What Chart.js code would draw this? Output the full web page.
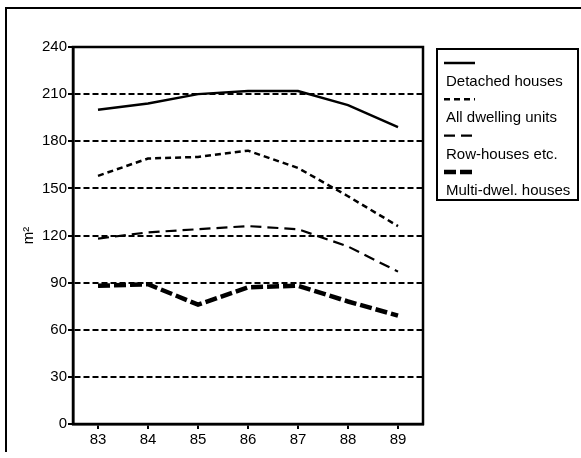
<!DOCTYPE html>
<html>
<head>
<meta charset="utf-8">
<script src="https://cdn.jsdelivr.net/npm/chart.js@4.4.0/dist/chart.umd.min.js"></script>
<style>
  html, body { margin: 0; padding: 0; background: #fff; }
  #wrap { width: 581px; height: 458px; position: relative; }
</style>
</head>
<body>
<div id="wrap"><canvas id="chart"></canvas></div>
<script>
  var years = ["83", "84", "85", "86", "87", "88", "89"];
  var detached = [200, 204, 210, 212, 212, 203, 189];
  var allUnits = [158, 169, 170, 174, 163, 145, 126];
  var rowHouses = [118, 122, 124, 126, 124, 113, 97];
  var multiDwel = [88, 89, 76, 87, 88, 78, 69];
  var seriesNames = ["Detached houses", "All dwelling units", "Row-houses etc.", "Multi-dwel. houses"];
  var yTitle = "m\u00b2";

  var FONT = "'Liberation Sans', Arial, sans-serif";
  Chart.defaults.font.family = FONT;
  Chart.defaults.font.size = 15;
  Chart.defaults.color = "#000";

  function line(label, data, width, dash) {
    return {
      label: label,
      data: data,
      borderColor: "#000",
      borderWidth: width,
      borderDash: dash,
      pointRadius: 0,
      fill: false,
      tension: 0,
    };
  }

  // outer frame + box round the plot area
  var framePlugin = {
    id: "frame",
    beforeDraw: function (chart) {
      var ctx = chart.ctx;
      ctx.save();
      ctx.strokeStyle = "#000";
      ctx.lineWidth = 2;
      ctx.beginPath();
      ctx.moveTo(6, 452);
      ctx.lineTo(6, 8);
      ctx.lineTo(581, 8);
      ctx.stroke();
      ctx.restore();
    },
    afterDraw: function (chart) {
      var a = chart.chartArea;
      var ctx = chart.ctx;
      ctx.save();
      ctx.strokeStyle = "#000";
      ctx.lineWidth = 2.5;
      ctx.strokeRect(a.left, a.top, a.right - a.left, a.bottom - a.top);
      ctx.restore();
    },
  };

  // legend: sample line above each label, inside a box
  var legendPlugin = {
    id: "boxLegend",
    afterDraw: function (chart) {
      var ctx = chart.ctx;
      var x = 437, y = 49, w = 141, h = 151;
      ctx.save();
      ctx.fillStyle = "#fff";
      ctx.fillRect(x, y, w, h);
      ctx.strokeStyle = "#000";
      ctx.lineWidth = 2;
      ctx.strokeRect(x, y, w, h);
      ctx.font = "15px " + FONT;
      ctx.fillStyle = "#000";
      ctx.textBaseline = "middle";
      chart.data.datasets.forEach(function (ds, i) {
        var ly = 63 + i * 36.3;
        ctx.beginPath();
        ctx.lineWidth = ds.borderWidth;
        ctx.setLineDash(ds.borderDash || []);
        ctx.moveTo(444, ly);
        ctx.lineTo(475, ly);
        ctx.stroke();
        ctx.setLineDash([]);
        ctx.fillText(ds.label, 446, ly + 19);
      });
      ctx.restore();
    },
  };

  new Chart(document.getElementById("chart"), {
    type: "line",
    data: {
      labels: years,
      datasets: [
        line(seriesNames[0], detached, 2.5, []),
        line(seriesNames[1], allUnits, 2.5, [6, 4]),
        line(seriesNames[2], rowHouses, 2.2, [11, 6]),
        line(seriesNames[3], multiDwel, 4.5, [12, 4]),
      ],
    },
    options: {
      responsive: true,
      maintainAspectRatio: false,
      animation: false,
      layout: { padding: { left: 0, top: 47, right: 158, bottom: 0 } },
      plugins: {
        legend: { display: false },
        tooltip: { enabled: false },
      },
      scales: {
        x: {
          offset: true,
          grid: { offset: false, drawOnChartArea: false, drawTicks: true, tickLength: 5, color: "#000", lineWidth: 2 },
          border: { color: "#000", width: 2.5 },
          ticks: { padding: 2, font: { size: 15 } },
          afterFit: function (s) { s.height = 34; },
        },
        y: {
          min: 0,
          max: 240,
          ticks: { stepSize: 30, padding: 1, font: { size: 15 } },
          grid: { color: "#000", lineWidth: 2, tickLength: 5, tickBorderDash: [], tickColor: "#000" },
          border: { color: "#000", width: 2.5, dash: [6, 3] },
          title: { display: true, text: yTitle, font: { size: 15 }, padding: { top: 20, bottom: 0 } },
          afterFit: function (s) { s.width = 73; },
        },
      },
    },
    plugins: [framePlugin, legendPlugin],
  });
</script>
</body>
</html>
